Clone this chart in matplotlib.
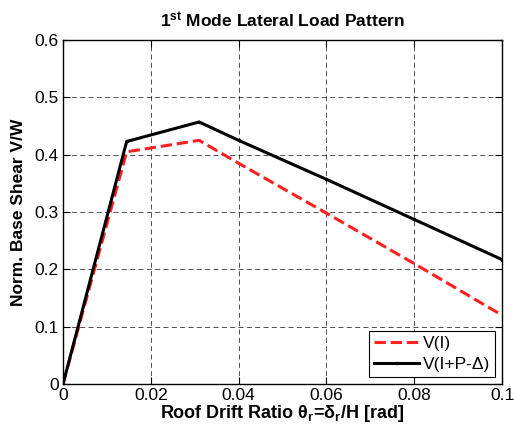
import matplotlib

matplotlib.use("Agg")
import matplotlib.pyplot as plt

# Pushover curves.
drift_v1 = [0.0, 0.0145, 0.031, 0.04, 0.06, 0.08, 0.1]
shear_v1 = [0.0, 0.405, 0.425, 0.385, 0.298, 0.210, 0.120]
drift_v2 = [0.0, 0.0145, 0.031, 0.04, 0.06, 0.08, 0.1]
shear_v2 = [0.0, 0.423, 0.457, 0.425, 0.357, 0.287, 0.217]

x_ticks = [0, 0.02, 0.04, 0.06, 0.08, 0.1]
x_ticklabels = ["0", "0.02", "0.04", "0.06", "0.08", "0.1"]
y_ticks = [0, 0.1, 0.2, 0.3, 0.4, 0.5, 0.6]
y_ticklabels = ["0", "0.1", "0.2", "0.3", "0.4", "0.5", "0.6"]

plt.rcParams["font.family"] = ["Liberation Sans", "DejaVu Sans"]
plt.rcParams["mathtext.fontset"] = "custom"
plt.rcParams["mathtext.rm"] = "Liberation Sans"
plt.rcParams["mathtext.bf"] = "Liberation Sans:bold"
plt.rcParams["mathtext.it"] = "Liberation Sans:italic"

fig = plt.figure(figsize=(5.14, 4.32), dpi=100)
ax = fig.add_axes([0.1226, 0.1111, 0.8541, 0.7963])

ax.plot(drift_v1, shear_v1, "--", color="#ff2020", linewidth=2.2, label="V(I)")
ax.plot(drift_v2, shear_v2, "-", color="black", linewidth=2.2,
        marker=".", markersize=3, label="V(I+P-\u0394)")

ax.set_xlim(0, 0.1)
ax.set_ylim(0, 0.6)
ax.set_xticks(x_ticks)
ax.set_xticklabels(x_ticklabels)
ax.set_yticks(y_ticks)
ax.set_yticklabels(y_ticklabels)
ax.tick_params(direction="in", labelsize=12.5, length=5, width=0.8,
               top=True, right=True, pad=3)
ax.grid(True, linestyle=(0, (6, 4)), color="black", linewidth=0.6, alpha=0.8)
for sp in ax.spines.values():
    sp.set_linewidth(1.0)

ax.set_title("1$^{\\mathbf{st}}$ Mode Lateral Load Pattern",
             fontsize=12.5, fontweight="bold", pad=9)
ax.set_xlabel("Roof Drift Ratio \u03b8$_\\mathbf{r}$=\u03b4$_\\mathbf{r}$/H [rad]",
              fontsize=13, fontweight="bold", labelpad=0)
ax.set_ylabel("Norm. Base Shear V/W", fontsize=12.5, fontweight="bold", labelpad=6)

leg = ax.legend(loc="lower right", fontsize=12.5, fancybox=False,
                edgecolor="black", framealpha=1, borderaxespad=0.4,
                handlelength=2.6, handletextpad=0.2, borderpad=0.3,
                labelspacing=0.3)
leg.get_frame().set_linewidth(0.8)

fig.savefig("out.png", dpi=100)
plt.close(fig)
